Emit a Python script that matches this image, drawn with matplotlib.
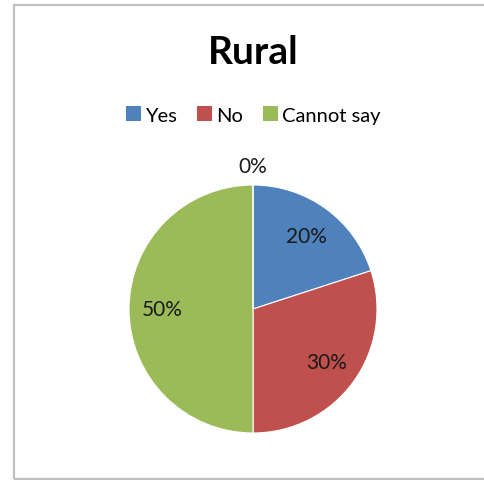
import matplotlib
matplotlib.use("Agg")
import matplotlib.pyplot as plt
from matplotlib.patches import Patch, Rectangle

# Datos del gráfico
categorias = ["Yes", "No", "Cannot say", ""]
valores = [20, 30, 50, 0]
colores = ["#4F81BD", "#C0504D", "#9BBB59", "#8064A2"]
titulo = "Rural"

plt.rcParams["font.family"] = ["Lato", "DejaVu Sans"]

W, H = 484, 481
fig = plt.figure(figsize=(W / 100, H / 100), dpi=100)

# Marco gris alrededor del área del gráfico (el borde derecho queda fuera)
fig.patches.append(Rectangle((14 / W, 1 - 480 / H), 500 / W, 474 / H,
                             transform=fig.transFigure, fill=False,
                             edgecolor="#BFBFBF", linewidth=1.6))

# Centro del pie en (253, 310) px, radio 124 px
cx, cy, r = 253, 310, 124
ax = fig.add_axes([(cx - r) / W, (H - cy - r) / H, 2 * r / W, 2 * r / H])

wedges, textos, autotextos = ax.pie(
    valores, colors=colores, startangle=90, counterclock=False,
    autopct="%1.0f%%", pctdistance=0.73,
    wedgeprops=dict(edgecolor="white", linewidth=0.8),
    textprops=dict(fontsize=15, color="#1a1a1a"))

# La porción de 0% se etiqueta fuera del círculo
autotextos[-1].set_position((0, 1.15))

ax.set_xlim(-1, 1)
ax.set_ylim(-1, 1)
ax.set_aspect("equal")
ax.axis("off")

fig.text(cx / W, 1 - 52 / H, titulo, ha="center", va="center",
         fontsize=28, fontweight="bold", color="#000000")

handles = [Patch(facecolor=c, edgecolor="none") for c in colores[:3]]
fig.legend(handles, categorias[:3], loc="center", bbox_to_anchor=(cx / W, 1 - 116 / H),
           ncol=3, frameon=False, fontsize=14.5, handlelength=0.75, handleheight=0.75,
           handletextpad=0.2, columnspacing=1.0)

fig.savefig("out.png", dpi=100)
